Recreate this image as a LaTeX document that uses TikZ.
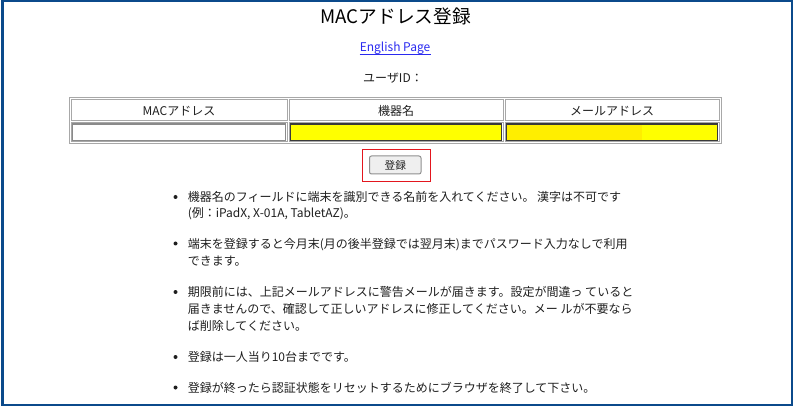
\documentclass[tikz,border=0pt]{standalone}
\usepackage{fontspec}
\setmainfont{Noto Sans CJK JP}
\definecolor{frameblue}{HTML}{0B4A8B}
\definecolor{cellgray}{HTML}{A8A8A8}
\definecolor{inputgray}{HTML}{8A8A8A}
\definecolor{darkborder}{HTML}{3A3A3A}
\definecolor{yel}{HTML}{FFFF00}
\definecolor{yeldark}{HTML}{FFEE00}
\definecolor{linkblue}{HTML}{2A2AF0}
\definecolor{btnfill}{HTML}{EFEFEF}
\definecolor{btnborder}{HTML}{8F8F8F}
\definecolor{redbox}{HTML}{E3161E}
\definecolor{textcol}{HTML}{1E1E1E}
\begin{document}
\begin{tikzpicture}[x=0.75pt,y=-0.75pt,
  cellbox/.style={draw=cellgray, line width=0.75pt},
  lab/.style={font=\fontsize{9}{11}\selectfont, inner sep=0, text=textcol},
  line/.style={font=\fontsize{9}{11}\selectfont, inner sep=0, anchor=base west, text=textcol},
  bul/.style={circle, fill=textcol, inner sep=0, minimum size=3pt}]
\useasboundingbox (0,0) rectangle (793,406);
% frame
\draw[frameblue, line width=1.5pt] (2.5,1) rectangle (792,404.5);
% title etc
\node[inner sep=0, anchor=base, font=\fontsize{14}{16}\selectfont] (title) at (395.6,23.5) {MACアドレス登録};
\node[inner sep=0, anchor=base, text=linkblue, font=\fontsize{9}{11}\selectfont] (link) at (395,52) {English Page};
\draw[linkblue, line width=0.6pt] ([yshift=-1.6pt]link.base west) -- ([yshift=-1.6pt]link.base east);
\node[inner sep=0, anchor=base, text=textcol, font=\fontsize{9}{11}\selectfont] (user) at (393,82.5) {ユーザID：};
% table
\draw[cellbox] (69,98) rectangle (721,144);
\draw[cellbox] (71,100) rectangle (287,121);
\draw[cellbox] (289,100) rectangle (503,121);
\draw[cellbox] (505,100) rectangle (719,121);
\draw[cellbox] (71,123) rectangle (287,142);
\draw[cellbox] (289,123) rectangle (503,142);
\draw[cellbox] (505,123) rectangle (719,142);
\node[lab] (h1) at (179,111) {MACアドレス};
\node[lab] (h2) at (396,111) {機器名};
\node[lab] (h3) at (612,111) {メールアドレス};
% inputs
\draw[inputgray, line width=1.2pt, fill=white] (72.5,124) rectangle (285.5,140.5);
\draw[darkborder, line width=1.2pt, fill=yel] (290.5,124) rectangle (501.5,140.5);
\fill[yel] (506.5,124) rectangle (717.5,140.5);
\fill[yeldark] (507,124.5) rectangle (642,140);
\draw[darkborder, line width=1.2pt] (506.5,124) rectangle (717.5,140.5);
% button
\draw[redbox, line width=0.75pt] (362,150) rectangle (430,181.5);
\draw[btnborder, fill=btnfill, line width=0.75pt, rounded corners=1.5pt] (369.5,156) rectangle (421,174);
\node[inner sep=0, font=\fontsize{8}{10}\selectfont, text=textcol] (btn) at (395.3,165) {登録};
% bullets
\node[bul] (b1) at (175.5,197) {};
\node[bul] (b2) at (175.5,243.5) {};
\node[bul] (b3) at (175.5,292) {};
\node[bul] (b4) at (175.5,357) {};
\node[bul] (b5) at (175.5,387.5) {};
\node[line] (l1) at (187.5,201.5) {機器名のフィールドに端末を識別できる名前を入れてください。 漢字は不可です};
\node[line] (l2) at (187.5,218) {(例：iPadX, X-01A, TabletAZ)。};
\node[line] (l3) at (187.5,248) {端末を登録すると今月末(月の後半登録では翌月末)までパスワード入力なしで利用};
\node[line] (l4) at (187.5,266) {できます。};
\node[line] (l5) at (187.5,296.5) {期限前には、上記メールアドレスに警告メールが届きます。設定が間違っ ていると};
\node[line] (l6) at (187.5,313) {届きませんので、確認して正しいアドレスに修正してください。メー ルが不要なら};
\node[line] (l7) at (187.5,330.5) {ば削除してください。};
\node[line] (l8) at (187.5,361.5) {登録は一人当り10台までです。};
\node[line] (l9) at (187.5,392) {登録が終ったら認証状態をリセットするためにブラウザを終了して下さい。};
\end{tikzpicture}
\end{document}
